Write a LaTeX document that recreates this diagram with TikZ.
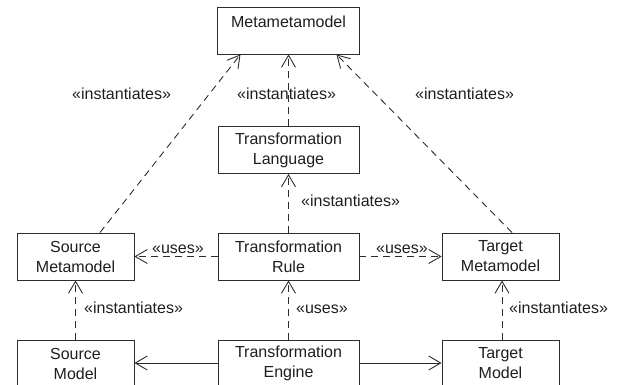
\documentclass[tikz,border=0pt]{standalone}
\usepackage{fontspec}
\setmainfont{Liberation Sans}
\usetikzlibrary{arrows.meta}
\definecolor{ln}{RGB}{45,45,45}
\definecolor{tx}{RGB}{30,30,30}
\begin{document}
\begin{tikzpicture}[x=1pt,y=-1pt,
  font=\fontsize{16}{20}\selectfont,
  box/.style={draw=ln, line width=0.9pt, rectangle, align=center, text=tx,
    minimum height=47pt, inner sep=0pt},
  wbox/.style={box, minimum width=141pt},
  nbox/.style={box, minimum width=117pt},
  lbl/.style={text=tx, anchor=base west, inner sep=0pt},
  dep/.style={draw=ln, line width=0.9pt, dash pattern=on 7pt off 5pt,
    -{Straight Barb[length=12pt,width=14pt,line width=0.9pt]}},
  sol/.style={draw=ln, line width=0.9pt,
    -{Straight Barb[length=12pt,width=14pt,line width=0.9pt]}}
]
\useasboundingbox (0,0) rectangle (618,385);
\begin{scope}
\clip (0,0) rectangle (618,385);
\node[box, minimum width=142pt, text height=18pt, text depth=23pt, inner ysep=3pt] (mmm) at (288.5,30.5) {Metametamodel};
\node[wbox] (tl) at (288.5,150) {Transformation\\Language};
\node[wbox] (tr) at (288.5,256.5) {Transformation\\Rule};
\node[wbox] (te) at (288.5,363.5) {Transformation\\Engine};
\node[nbox] (sm) at (75.5,256.5) {Source\\Metamodel};
\node[nbox] (smod) at (75.5,363.5) {Source\\Model};
\node[nbox] (tm) at (500.5,256.5) {Target\\Metamodel};
\node[nbox] (tmod) at (500.5,363.5) {Target\\Model};

\draw[dep] ([xshift=24.5pt]sm.north) -- ([xshift=-48pt]mmm.south);
\draw[dep] ([xshift=11.5pt]tm.north) -- ([xshift=48pt]mmm.south);
\draw[dep] (tl.north) -- (mmm.south);
\draw[dep] (tr.north) -- (tl.south);
\draw[dep] (te.north) -- (tr.south);
\draw[dep] (tr.west) -- (sm.east);
\draw[dep] (tr.east) -- (tm.east -| tm.west);
\draw[dep] (smod.north) -- (sm.south);
\draw[dep] ([xshift=1.5pt]tmod.north) -- ([xshift=1.5pt]tm.south);
\draw[sol] ([yshift=0.5pt]te.west) -- ([yshift=0.5pt]smod.east);
\draw[sol] ([yshift=0.5pt]te.east) -- ([yshift=0.5pt]tmod.west);

\node[lbl] (l1) at (72,100) {«instantiates»};
\node[lbl] (l2) at (237,100) {«instantiates»};
\node[lbl] (l3) at (415,100) {«instantiates»};
\node[lbl] (l4) at (301,206) {«instantiates»};
\node[lbl] (l5) at (152,253) {«uses»};
\node[lbl] (l6) at (376,253) {«uses»};
\node[lbl] (l7) at (296,313) {«uses»};
\node[lbl] (l8) at (84,313) {«instantiates»};
\node[lbl] (l9) at (509,313) {«instantiates»};
\end{scope}
\end{tikzpicture}
\end{document}
